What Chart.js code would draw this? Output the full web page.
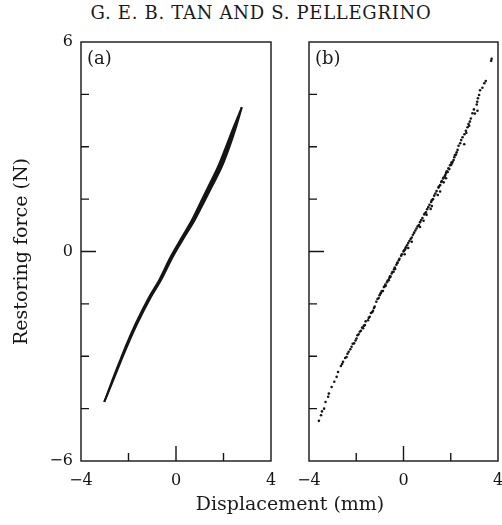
<!DOCTYPE html>
<html>
<head>
<meta charset="utf-8">
<script src="https://cdn.jsdelivr.net/npm/chart.js@4.4.1/dist/chart.umd.min.js"></script>
<style>
  body { margin: 0; width: 502px; height: 525px; overflow: hidden; background: #fff; position: relative; font-family: "DejaVu Serif", serif; color: #1a1a1a; }
  canvas { position: absolute; top: 0; }
  #chartA { left: 0; }
  #chartB { left: 290px; }
  .txt { position: absolute; line-height: 1; white-space: nowrap; }
  #heading { top: 4px; left: 261px; transform: translateX(-50%); font-size: 18px; letter-spacing: 0.7px; }
  #xTitle { top: 494px; left: 290px; transform: translateX(-50%); font-size: 19px; }
  #tagA { top: 49px; left: 87px; font-size: 18px; }
  #tagB { top: 49px; left: 315px; font-size: 18px; }
</style>
</head>
<body>
<div class="txt" id="heading">G. E. B. TAN AND S. PELLEGRINO</div>
<canvas id="chartA" width="290" height="525"></canvas>
<canvas id="chartB" width="212" height="525"></canvas>
<div class="txt" id="tagA">(a)</div>
<div class="txt" id="tagB">(b)</div>
<div class="txt" id="xTitle">Displacement (mm)</div>
<script>
// labelled ticks
const forceTickLabels = [-6, 0, 6];
const dispTickLabels = [-4, 0, 4];

// panel (a): measured loop, both branches (mm, N)
const forceA = [-4.31, -3.65, -3.05, -2.70, -2.06, -1.30, -0.82, -0.15, 0.42, 0.90, 1.47, 1.85, 2.43, 2.91, 3.57, 4.13];
const dispAUp = [-3.02, -2.66, -2.315, -2.11, -1.695, -1.13, -0.71, -0.225, 0.26, 0.67, 1.08, 1.355, 1.77, 2.055, 2.43, 2.77];
const dispADown = [-3.02, -2.62, -2.265, -2.05, -1.625, -1.05, -0.63, -0.135, 0.36, 0.79, 1.22, 1.505, 1.93, 2.205, 2.53, 2.77];

// panel (b): identified model points (mm, N)
const dispB = [
  -3.58, -3.49, -3.45, -3.36, -3.30, -3.19, -3.16, -3.04, -2.93, -2.83, -2.77, -2.65, -2.60, -2.56, -2.47, -2.41,
  -2.37, -2.32, -2.25, -2.20, -2.15, -2.09, -2.03, -1.99, -1.95, -1.90, -1.85, -1.80, -1.75, -1.71, -1.68, -1.64,
  -1.60, -1.50, -1.47, -1.43, -1.38, -1.33, -1.29, -1.25, -1.22, -1.15, -1.10, -1.05, -1.01, -0.97, -0.95, -0.92,
  -0.87, -0.83, -0.80, -0.77, -0.75, -0.70, -0.67, -0.62, -0.60, -0.57, -0.55, -0.50, -0.47, -0.42, -0.40, -0.37,
  -0.35, -0.30, -0.27, -0.25, -0.20, -0.17, -0.10, -0.07, 0.00, 0.02, 0.05, 0.05, 0.08, 0.10, 0.15, 0.20,
  0.20, 0.25, 0.30, 0.35, 0.35, 0.40, 0.45, 0.50, 0.55, 0.60, 0.65, 0.70, 0.70, 0.75, 0.80, 0.85, 0.88, 0.90,
  0.95, 0.98, 1.00, 1.05, 1.10, 1.15, 1.17, 1.20, 1.20, 1.25, 1.30, 1.35, 1.40, 1.45, 1.48, 1.50, 1.55, 1.55,
  1.60, 1.62, 1.68, 1.70, 1.70, 1.75, 1.77, 1.80, 1.80, 1.83, 1.87, 1.90, 1.94, 1.97, 2.01, 2.03, 2.05, 2.08,
  2.12, 2.15, 2.18, 2.22, 2.25, 2.29, 2.33, 2.40, 2.44, 2.50, 2.57, 2.58, 2.64, 2.66, 2.71, 2.75, 2.78, 2.81,
  2.85, 2.92, 2.98, 3.02, 3.10, 3.12, 3.13, 3.15, 3.20, 3.24, 3.34, 3.42, 3.48, 3.71, 3.73
];
const forceB = [
  -4.85, -4.69, -4.58, -4.50, -4.31, -4.16, -4.07, -3.88, -3.73, -3.59, -3.45, -3.28, -3.22, -3.16, -3.05, -3.02,
  -2.93, -2.87, -2.80, -2.73, -2.64, -2.63, -2.55, -2.49, -2.40, -2.37, -2.30, -2.27, -2.18, -2.20, -2.13, -2.11,
  -2.00, -1.97, -1.90, -1.87, -1.76, -1.74, -1.70, -1.62, -1.58, -1.44, -1.36, -1.33, -1.25, -1.20, -1.18, -1.13,
  -1.13, -1.02, -1.00, -0.95, -0.98, -0.88, -0.83, -0.82, -0.76, -0.71, -0.72, -0.63, -0.59, -0.58, -0.51, -0.46,
  -0.50, -0.38, -0.33, -0.32, -0.25, -0.21, -0.12, -0.08, 0.00, 0.03, -0.08, 0.04, 0.08, 0.12, 0.18, 0.24,
  0.10, 0.30, 0.36, 0.28, 0.40, 0.48, 0.54, 0.60, 0.66, 0.72, 0.76, 0.84, 0.70, 0.90, 0.96, 0.88, 1.06, 1.09,
  1.12, 1.05, 1.21, 1.27, 1.34, 1.22, 1.42, 1.47, 1.30, 1.50, 1.60, 1.66, 1.73, 1.62, 1.83, 1.86, 1.72, 1.90,
  1.99, 2.02, 2.09, 2.12, 1.98, 2.16, 2.19, 2.25, 2.10, 2.30, 2.28, 2.38, 2.36, 2.47, 2.48, 2.55, 2.52, 2.57,
  2.62, 2.70, 2.76, 2.78, 2.84, 2.91, 3.03, 3.10, 3.19, 3.27, 3.07, 3.36, 3.46, 3.40, 3.56, 3.65, 3.60, 3.72,
  3.81, 3.96, 4.07, 3.95, 4.21, 4.29, 4.03, 4.39, 4.48, 4.62, 4.69, 4.82, 4.88, 5.46, 5.52
];

const INK = '#151515';
const FAMILY = '"DejaVu Serif", serif';

function fmt(v) {
  return v < 0 ? '\u2212' + Math.abs(v) : String(v);
}

const frameAndTicks = {
  id: 'frameAndTicks',
  afterDatasetsDraw(chart) {
    const { ctx, chartArea: a, scales: { x, y } } = chart;
    ctx.save();
    ctx.strokeStyle = INK;
    ctx.lineWidth = 1.4;
    ctx.strokeRect(a.left, a.top, a.right - a.left, a.bottom - a.top);
    ctx.beginPath();
    y.ticks.forEach(t => {
      if (t.value <= y.min || t.value >= y.max) return;
      const py = y.getPixelForValue(t.value);
      ctx.moveTo(a.left, py);
      ctx.lineTo(a.left + (t.value === 0 ? 15 : 8), py);
    });
    x.ticks.forEach(t => {
      if (t.value <= x.min || t.value >= x.max) return;
      const px = x.getPixelForValue(t.value);
      ctx.moveTo(px, a.bottom);
      ctx.lineTo(px, a.bottom - (t.value === 0 ? 15 : 8));
    });
    ctx.stroke();
    ctx.restore();
  }
};

function makeScales(yLabels, yWidth, yTitle) {
  return {
    x: {
      type: 'linear',
      min: -4,
      max: 4,
      grid: { display: false, drawTicks: false },
      border: { display: false },
      ticks: {
        stepSize: 2,
        autoSkip: false,
        maxRotation: 0,
        padding: 10,
        color: INK,
        font: { family: FAMILY, size: 16 },
        callback: v => dispTickLabels.includes(v) ? fmt(v) : ''
      },
      afterFit(s) { s.height = 64; s.paddingLeft = 0; s.paddingRight = 0; }
    },
    y: {
      type: 'linear',
      min: -6,
      max: 6,
      grid: { display: false, drawTicks: false },
      border: { display: false },
      ticks: {
        stepSize: 1.5,
        autoSkip: false,
        padding: 8,
        color: INK,
        font: { family: FAMILY, size: 16 },
        callback: v => (yLabels && forceTickLabels.includes(v)) ? fmt(v) : ''
      },
      title: {
        display: !!yTitle,
        text: yTitle || '',
        color: INK,
        font: { family: FAMILY, size: 19 },
        padding: { top: 11, bottom: 0 }
      },
      afterFit(s) { s.width = yWidth; s.paddingTop = 0; s.paddingBottom = 0; }
    }
  };
}

const baseOptions = {
  responsive: false,
  animation: false,
  plugins: { legend: { display: false }, tooltip: { enabled: false } }
};

new Chart(document.getElementById('chartA'), {
  type: 'line',
  data: {
    datasets: [
      {
        data: dispAUp.map((d, i) => ({ x: d, y: forceA[i] })),
        borderColor: INK,
        borderWidth: 2,
        pointRadius: 0,
        cubicInterpolationMode: 'monotone',
        fill: false
      },
      {
        data: dispADown.map((d, i) => ({ x: d, y: forceA[i] })),
        borderColor: INK,
        backgroundColor: INK,
        borderWidth: 2,
        pointRadius: 0,
        cubicInterpolationMode: 'monotone',
        fill: '-1'
      }
    ]
  },
  options: {
    ...baseOptions,
    layout: { padding: { left: 0, top: 42, right: 19, bottom: 0 } },
    scales: makeScales(true, 81, 'Restoring force (N)')
  },
  plugins: [frameAndTicks]
});

new Chart(document.getElementById('chartB'), {
  type: 'scatter',
  data: {
    datasets: [{
      data: dispB.map((d, i) => ({ x: d, y: forceB[i] })),
      backgroundColor: INK,
      borderWidth: 0,
      pointRadius: 1.3
    }]
  },
  options: {
    ...baseOptions,
    layout: { padding: { left: 0, top: 42, right: 3, bottom: 0 } },
    scales: makeScales(false, 19, '')
  },
  plugins: [frameAndTicks]
});
</script>
</body>
</html>
